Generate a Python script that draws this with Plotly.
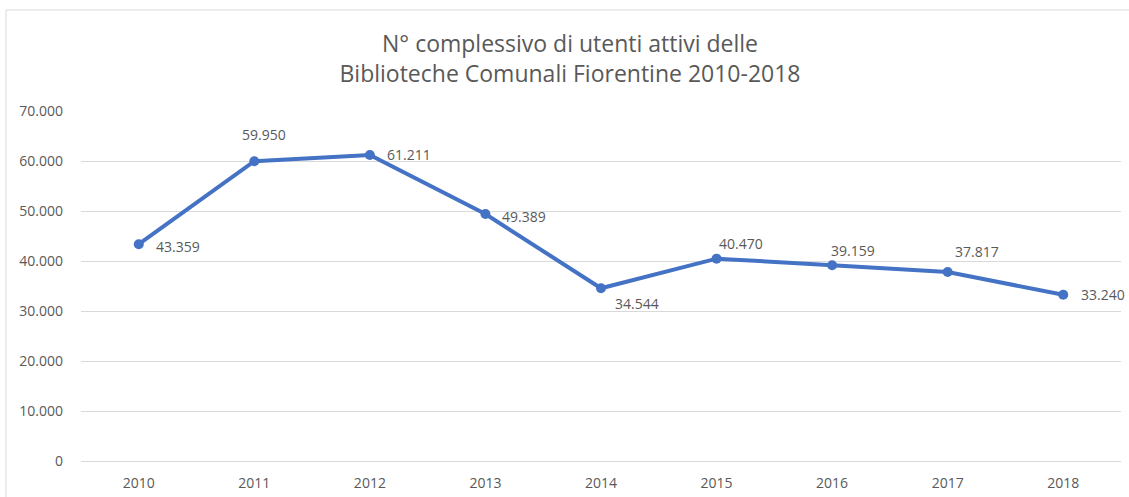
import plotly.graph_objects as go

years = ["2010", "2011", "2012", "2013", "2014", "2015", "2016", "2017", "2018"]
users = [43359, 59950, 61211, 49389, 34544, 40470, 39159, 37817, 33240]
y_ticks = [0, 10000, 20000, 30000, 40000, 50000, 60000, 70000]

label_dx = [15, -14, 15, 15, 12, 0, -3, 5, 16]
label_dy = [-2, 27, 0, -2, -15, 15, 15, 20, 0]

W, H = 1129, 497
L, R, T, B = 81, 8, 111, 36
pw, ph = W - L - R, H - T - B

grey = "#595959"
blue = "#4472C4"
font = "Open Sans"

fig = go.Figure()
fig.add_trace(go.Scatter(
    x=years, y=users, mode="lines+markers",
    line=dict(color=blue, width=4),
    marker=dict(color=blue, size=10),
    cliponaxis=False,
))

# on a category axis, annotation x is the category's serial index
for i, (v, dx, dy) in enumerate(zip(users, label_dx, label_dy)):
    fig.add_annotation(
        x=i, y=v, xref="x", yref="y",
        text=f"{v:,}".replace(",", "."),
        showarrow=False, xanchor="left", yanchor="middle",
        xshift=dx, yshift=dy,
        font=dict(family=font, size=14, color=grey),
    )

fig.update_layout(
    width=W, height=H,
    margin=dict(l=L, r=R, t=T, b=B, autoexpand=False),
    paper_bgcolor="white", plot_bgcolor="white",
    showlegend=False,
    title=dict(
        text="N° complessivo di utenti attivi delle<br>Biblioteche Comunali Fiorentine 2010-2018",
        x=570 / W, xanchor="center",
        y=1 - 52 / H, yanchor="top",
        font=dict(family=font, size=23, color=grey),
    ),
    xaxis=dict(
        type="category", range=[-0.5, 8.5],
        showgrid=False, showline=False, zeroline=False,
        tickfont=dict(family=font, size=14, color=grey),
        ticks="", ticklabelstandoff=12,
    ),
    yaxis=dict(
        range=[0, 70000], tickvals=y_ticks,
        ticktext=[f"{t:,}".replace(",", ".") for t in y_ticks],
        showgrid=True, gridcolor="#D9D9D9", gridwidth=1,
        zeroline=True, zerolinecolor="#D9D9D9", zerolinewidth=1,
        showline=False, ticks="",
        tickfont=dict(family=font, size=14, color=grey),
        ticklabelstandoff=17,
    ),
    shapes=[dict(
        type="rect", xref="paper", yref="paper",
        x0=(6 - L) / pw, x1=(1140 - L) / pw,
        y0=(H - B - 510) / ph, y1=(H - B - 10) / ph,
        line=dict(color="#D9D9D9", width=1), fillcolor="rgba(0,0,0,0)", layer="below",
    )],
)

fig.write_html("out.html", config={"displayModeBar": False},
               post_script="document.body.style.margin='0';")
